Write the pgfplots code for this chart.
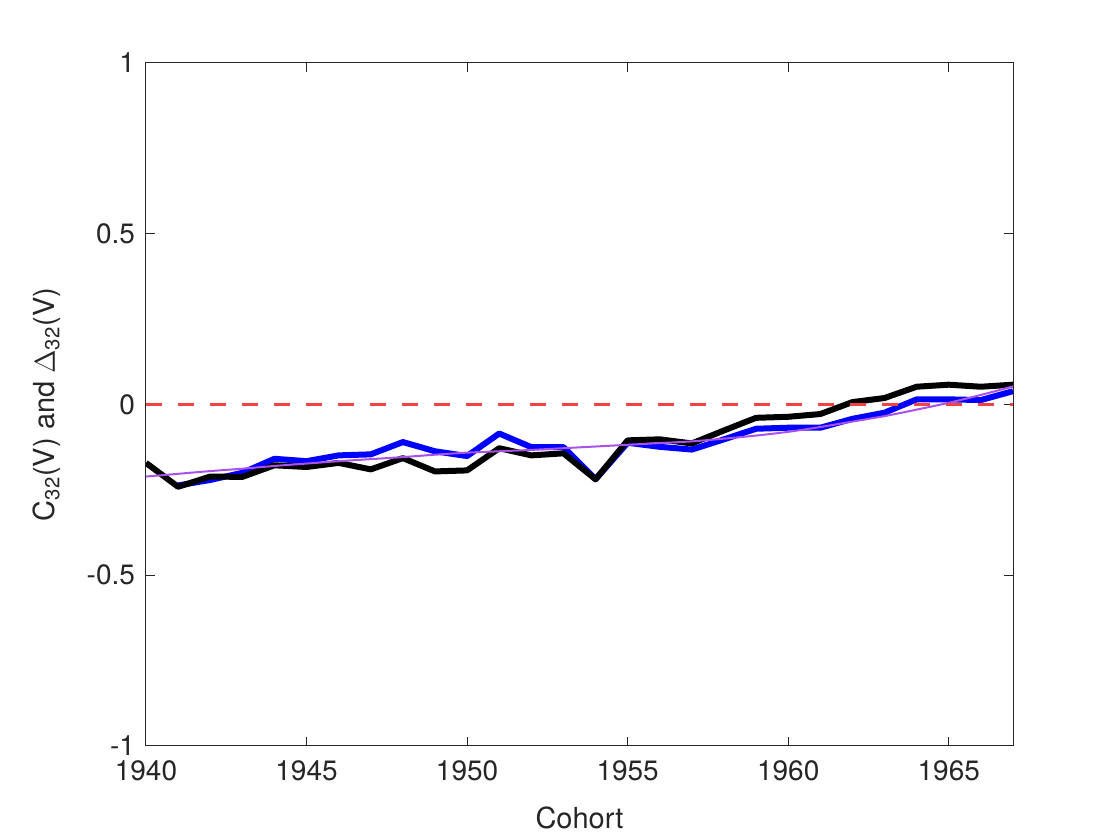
\documentclass[border=0pt]{standalone}
\usepackage{fontspec}
\setmainfont{TeX Gyre Heros}
\usepackage{pgfplots}
\pgfplotsset{compat=1.18}
\definecolor{axgray}{rgb}{0.15,0.15,0.15}
\definecolor{myblue}{rgb}{0,0,1}
\definecolor{mypurple}{rgb}{0.66,0.32,0.92}
\definecolor{myred}{rgb}{0.96,0.26,0.26}
\begin{document}
\begin{tikzpicture}
\useasboundingbox (-73pt,-47pt) rectangle (487pt,373pt);
\begin{axis}[
  at={(0,0)}, anchor=south west,
  scale only axis, width=433.5pt, height=341.5pt,
  xmin=1940, xmax=1967, ymin=-1, ymax=1,
  xtick={1940,1945,1950,1955,1960,1965},
  xticklabels={1940,1945,1950,1955,1960,1965},
  ytick={-1,-0.5,0,0.5,1},
  yticklabels={-1,-0.5,0,0.5,1},
  tick align=inside, major tick length=4.5pt,
  axis line style={axgray, line width=0.5pt},
  every tick/.style={axgray, line width=0.5pt},
  tick label style={font=\fontsize{14}{16}\selectfont, text=axgray},
  xlabel={Cohort}, ylabel={C\textsubscript{32}(V) and $\Delta$\textsubscript{32}(V)},
  label style={font=\fontsize{14.5}{17}\selectfont, text=axgray},
  xlabel style={at={(axis description cs:0.5,0)}, anchor=north, yshift=-27pt},
  ylabel style={at={(axis description cs:0,0.5)}, anchor=south, yshift=39pt},
  x tick label style={yshift=-4pt},
  y tick label style={xshift=-2pt},
]
\addplot[myblue, line width=3pt, line join=round] coordinates {
(1941,-0.237) (1942,-0.221) (1943,-0.200) (1944,-0.159) (1945,-0.166)
(1946,-0.149) (1947,-0.146) (1948,-0.110) (1949,-0.137) (1950,-0.151)
(1951,-0.085) (1952,-0.125) (1953,-0.125) (1954,-0.219) (1955,-0.112)
(1956,-0.124) (1957,-0.132) (1958,-0.102) (1959,-0.071) (1960,-0.068)
(1961,-0.068) (1962,-0.042) (1963,-0.024) (1964,0.015) (1965,0.015)
(1966,0.013) (1967,0.039)
};
\addplot[black, line width=3pt, line join=round] coordinates {
(1940,-0.171) (1941,-0.241) (1942,-0.211) (1943,-0.212) (1944,-0.178)
(1945,-0.183) (1946,-0.171) (1947,-0.190) (1948,-0.157) (1949,-0.196)
(1950,-0.193) (1951,-0.128) (1952,-0.149) (1953,-0.143) (1954,-0.219)
(1955,-0.105) (1956,-0.102) (1957,-0.114) (1958,-0.076) (1959,-0.039)
(1960,-0.036) (1961,-0.028) (1962,0.007) (1963,0.019) (1964,0.052)
(1965,0.058) (1966,0.052) (1967,0.058)
};
\addplot[mypurple, line width=1pt, smooth] coordinates {
(1940,-0.211) (1941,-0.203) (1942,-0.195) (1943,-0.188) (1944,-0.180)
(1945,-0.173) (1946,-0.166) (1947,-0.160) (1948,-0.154) (1949,-0.147)
(1950,-0.141) (1951,-0.137) (1952,-0.133) (1953,-0.128) (1954,-0.123)
(1955,-0.118) (1956,-0.113) (1957,-0.108) (1958,-0.100) (1959,-0.091)
(1960,-0.080) (1961,-0.066) (1962,-0.050) (1963,-0.034) (1964,-0.015)
(1965,0.005) (1966,0.028) (1967,0.053)
};
\addplot[myred, line width=1.6pt, dash pattern=on 8pt off 8pt] coordinates {
(1940,0) (1967,0)
};
\end{axis}
\end{tikzpicture}
\end{document}
